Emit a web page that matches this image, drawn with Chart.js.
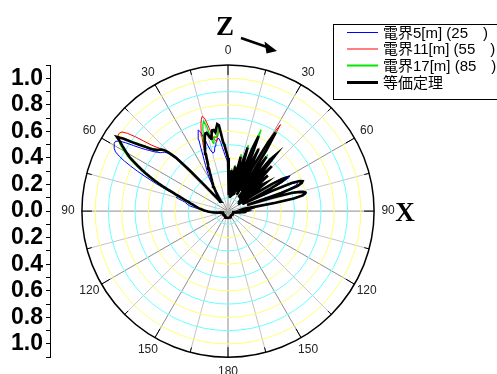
<!DOCTYPE html>
<html>
<head>
<meta charset="utf-8">
<script src="https://cdn.jsdelivr.net/npm/chart.js@4/dist/chart.umd.min.js"></script>
<style>
  html, body { margin: 0; padding: 0; background: #fff; }
  #c { display: block; }
</style>
</head>
<body>
<canvas id="c" width="497" height="374"></canvas>
<script>
// Sampling angles in degrees, clockwise from Z (top): coarse at the back, 1 deg in front.
const ANGLES = [];
for (let a = -180; a < -120; a += 5) ANGLES.push(a);
for (let a = -120; a <= 120; a++) ANGLES.push(a);
for (let a = 125; a <= 180; a += 5) ANGLES.push(a);

const SERIES_LABELS = ['電界5[m] (25\u3000)', '電界11[m] (55\u3000)', '電界17[m] (85\u3000)', '等価定理'];

// Normalised field strength, one value per entry of ANGLES.
const FIELD_5M = [
  0.05,0.05,0.05,0.05,0.05,0.05,0.04,0.04,0.04,0.04,0.04,0.04,            // -180..-125
  0.04,0.04,0.04,0.04,0.04,0.04,0.04,0.04,0.04,0.04,                      // -120
  0.04,0.04,0.04,0.05,0.05,0.05,0.06,0.06,0.06,0.07,                      // -110
  0.07,0.08,0.09,0.10,0.11,0.12,0.13,0.14,0.15,0.16,                      // -100
  0.17,0.18,0.19,0.20,0.21,0.23,0.25,0.27,0.29,0.30,                      // -90
  0.31,0.32,0.33,0.35,0.38,0.40,0.39,0.40,0.43,0.47,                      // -80
  0.52,0.57,0.62,0.68,0.74,0.80,0.86,0.91,0.95,0.97,                      // -70
  0.98,0.99,0.99,0.97,0.92,0.86,0.81,0.77,0.74,0.71,                      // -60
  0.69,0.67,0.66,0.65,0.63,0.59,0.52,0.38,0.24,0.17,                      // -50
  0.13,0.11,0.10,0.10,0.11,0.13,0.15,0.17,0.20,0.23,                      // -40
  0.26,0.29,0.32,0.35,0.38,0.42,0.46,0.52,0.58,0.62,                      // -30
  0.65,0.63,0.58,0.52,0.48,0.46,0.45,0.46,0.48,0.50,                      // -20
  0.52,0.54,0.55,0.55,0.52,0.48,0.45,0.42,0.40,0.38,                      // -10
  0.36,0.28,0.13,0.14,0.26,0.30,0.18,0.11,0.24,0.33,                      // 0
  0.22,0.12,0.30,0.40,0.27,0.12,0.36,0.47,0.33,0.13,                      // 10
  0.32,0.48,0.57,0.42,0.16,0.38,0.50,0.35,0.14,0.40,                      // 20
  0.58,0.64,0.48,0.18,0.36,0.48,0.33,0.14,0.36,0.52,                      // 30
  0.57,0.45,0.15,0.32,0.45,0.32,0.12,0.28,0.38,0.26,                      // 40
  0.10,0.22,0.33,0.33,0.22,0.10,0.12,0.26,0.42,0.50,                      // 50
  0.53,0.52,0.45,0.28,0.12,0.32,0.48,0.55,0.56,0.54,                      // 60
  0.48,0.36,0.15,0.36,0.52,0.58,0.60,0.60,0.57,0.50,                      // 70
  0.36,0.18,0.12,0.12,0.14,0.16,0.15,0.13,0.13,0.14,                      // 80
  0.13,0.12,0.12,0.12,0.11,0.10,0.09,0.08,0.07,0.06,                      // 90
  0.05,0.05,0.05,0.05,0.04,0.04,0.04,0.04,0.04,0.04,                      // 100
  0.04,0.04,0.04,0.04,0.04,0.04,0.04,0.04,0.04,0.04,0.04,                 // 110..120
  0.04,0.04,0.04,0.04,0.04,0.04,0.05,0.05,0.05,0.05,0.05,0.05             // 125..180
];

const FIELD_11M = [
  0.05,0.05,0.05,0.05,0.05,0.05,0.04,0.04,0.04,0.04,0.04,0.04,            // -180..-125
  0.04,0.04,0.04,0.04,0.04,0.04,0.04,0.04,0.04,0.04,                      // -120
  0.04,0.04,0.04,0.04,0.05,0.05,0.05,0.05,0.06,0.06,                      // -110
  0.06,0.07,0.08,0.09,0.10,0.11,0.12,0.13,0.14,0.15,                      // -100
  0.16,0.17,0.18,0.19,0.20,0.21,0.22,0.23,0.24,0.25,                      // -90
  0.26,0.27,0.28,0.30,0.32,0.34,0.36,0.39,0.42,0.45,                      // -80
  0.49,0.53,0.57,0.61,0.65,0.69,0.73,0.77,0.81,0.85,                      // -70
  0.88,0.91,0.94,0.97,0.99,1.00,1.00,0.99,0.95,0.89,                      // -60
  0.82,0.76,0.72,0.69,0.66,0.62,0.55,0.42,0.27,0.18,                      // -50
  0.13,0.10,0.09,0.09,0.10,0.11,0.13,0.15,0.17,0.19,                      // -40
  0.21,0.23,0.25,0.27,0.30,0.33,0.37,0.41,0.45,0.50,                      // -30
  0.55,0.60,0.65,0.69,0.72,0.74,0.72,0.66,0.60,0.56,                      // -20
  0.54,0.53,0.56,0.60,0.62,0.58,0.52,0.48,0.45,0.42,                      // -10
  0.38,0.29,0.14,0.13,0.25,0.32,0.19,0.11,0.23,0.35,                      // 0
  0.23,0.12,0.29,0.43,0.29,0.12,0.35,0.51,0.35,0.13,                      // 10
  0.31,0.51,0.62,0.45,0.16,0.37,0.53,0.38,0.15,0.42,                      // 20
  0.66,0.76,0.58,0.19,0.34,0.51,0.35,0.13,0.33,0.50,                      // 30
  0.53,0.40,0.14,0.34,0.46,0.33,0.12,0.29,0.40,0.27,                      // 40
  0.10,0.21,0.33,0.34,0.23,0.10,0.11,0.24,0.40,0.48,                      // 50
  0.50,0.48,0.40,0.24,0.12,0.33,0.50,0.57,0.58,0.57,                      // 60
  0.52,0.38,0.15,0.35,0.51,0.57,0.59,0.59,0.56,0.49,                      // 70
  0.35,0.18,0.12,0.11,0.13,0.15,0.14,0.12,0.13,0.14,                      // 80
  0.13,0.12,0.13,0.13,0.12,0.10,0.09,0.08,0.07,0.06,                      // 90
  0.05,0.05,0.05,0.04,0.04,0.04,0.04,0.04,0.04,0.04,                      // 100
  0.04,0.04,0.04,0.04,0.04,0.04,0.04,0.04,0.04,0.04,0.04,                 // 110..120
  0.04,0.04,0.04,0.04,0.04,0.04,0.05,0.05,0.05,0.05,0.05,0.05             // 125..180
];

const FIELD_17M = [
  0.05,0.05,0.05,0.05,0.05,0.05,0.04,0.04,0.04,0.04,0.04,0.04,            // -180..-125
  0.04,0.04,0.04,0.04,0.04,0.04,0.04,0.04,0.04,0.04,                      // -120
  0.04,0.04,0.04,0.04,0.05,0.05,0.05,0.05,0.06,0.06,                      // -110
  0.06,0.07,0.08,0.09,0.10,0.11,0.12,0.13,0.14,0.15,                      // -100
  0.16,0.17,0.18,0.19,0.21,0.22,0.23,0.24,0.25,0.26,                      // -90
  0.27,0.28,0.30,0.31,0.33,0.35,0.37,0.40,0.43,0.46,                      // -80
  0.50,0.54,0.58,0.62,0.66,0.70,0.74,0.78,0.82,0.86,                      // -70
  0.89,0.92,0.95,0.97,0.99,0.96,0.90,0.85,0.80,0.76,                      // -60
  0.73,0.71,0.69,0.67,0.65,0.61,0.55,0.41,0.26,0.18,                      // -50
  0.13,0.10,0.09,0.09,0.10,0.11,0.13,0.15,0.17,0.19,                      // -40
  0.21,0.23,0.25,0.27,0.29,0.32,0.35,0.39,0.43,0.47,                      // -30
  0.51,0.55,0.59,0.64,0.68,0.70,0.66,0.56,0.52,0.55,                      // -20
  0.57,0.56,0.58,0.62,0.63,0.57,0.51,0.48,0.45,0.42,                      // -10
  0.39,0.30,0.14,0.13,0.25,0.32,0.20,0.11,0.23,0.35,                      // 0
  0.24,0.12,0.30,0.44,0.31,0.12,0.36,0.52,0.37,0.13,                      // 10
  0.33,0.55,0.66,0.49,0.16,0.36,0.52,0.38,0.14,0.40,                      // 20
  0.62,0.70,0.55,0.18,0.35,0.52,0.37,0.13,0.32,0.49,                      // 30
  0.53,0.40,0.14,0.33,0.46,0.33,0.12,0.28,0.39,0.27,                      // 40
  0.10,0.20,0.32,0.34,0.23,0.10,0.10,0.23,0.39,0.47,                      // 50
  0.49,0.46,0.37,0.21,0.12,0.34,0.51,0.57,0.59,0.58,                      // 60
  0.53,0.40,0.15,0.35,0.50,0.56,0.59,0.59,0.56,0.49,                      // 70
  0.35,0.18,0.12,0.11,0.13,0.15,0.14,0.12,0.13,0.14,                      // 80
  0.13,0.12,0.13,0.13,0.12,0.10,0.09,0.08,0.07,0.06,                      // 90
  0.05,0.05,0.05,0.04,0.04,0.04,0.04,0.04,0.04,0.04,                      // 100
  0.04,0.04,0.04,0.04,0.04,0.04,0.04,0.04,0.04,0.04,0.04,                 // 110..120
  0.04,0.04,0.04,0.04,0.04,0.04,0.05,0.05,0.05,0.05,0.05,0.05             // 125..180
];

const EQUIVALENCE = [
  0.05,0.05,0.05,0.05,0.05,0.05,0.04,0.04,0.04,0.04,0.04,0.04,            // -180..-125
  0.04,0.04,0.04,0.04,0.04,0.04,0.04,0.04,0.04,0.04,                      // -120
  0.04,0.04,0.04,0.04,0.05,0.05,0.05,0.05,0.06,0.06,                      // -110
  0.06,0.07,0.08,0.09,0.10,0.11,0.12,0.13,0.14,0.15,                      // -100
  0.16,0.17,0.18,0.19,0.20,0.21,0.22,0.23,0.24,0.25,                      // -90
  0.26,0.27,0.29,0.30,0.32,0.34,0.36,0.38,0.41,0.44,                      // -80
  0.48,0.52,0.56,0.60,0.64,0.68,0.72,0.76,0.80,0.84,                      // -70
  0.87,0.90,0.93,0.96,1.00,0.95,0.88,0.83,0.79,0.75,                      // -60
  0.72,0.70,0.69,0.68,0.66,0.62,0.56,0.42,0.26,0.18,                      // -50
  0.13,0.10,0.09,0.09,0.10,0.11,0.13,0.15,0.17,0.19,                      // -40
  0.21,0.23,0.25,0.27,0.29,0.32,0.35,0.38,0.42,0.46,                      // -30
  0.50,0.53,0.56,0.59,0.61,0.61,0.58,0.56,0.59,0.62,                      // -20
  0.62,0.60,0.63,0.66,0.65,0.58,0.52,0.50,0.46,0.43,                      // -10
  0.40,0.30,0.14,0.12,0.24,0.31,0.20,0.10,0.22,0.34,                      // 0
  0.24,0.11,0.28,0.42,0.30,0.12,0.34,0.50,0.36,0.13,                      // 10
  0.30,0.50,0.61,0.46,0.16,0.36,0.52,0.38,0.14,0.38,                      // 20
  0.60,0.69,0.54,0.18,0.34,0.50,0.36,0.13,0.32,0.50,                      // 30
  0.55,0.40,0.14,0.34,0.47,0.34,0.12,0.28,0.40,0.28,                      // 40
  0.10,0.20,0.32,0.35,0.24,0.10,0.10,0.22,0.38,0.47,                      // 50
  0.50,0.46,0.36,0.20,0.12,0.35,0.52,0.58,0.60,0.59,                      // 60
  0.55,0.42,0.15,0.35,0.50,0.56,0.59,0.59,0.57,0.50,                      // 70
  0.36,0.18,0.12,0.11,0.13,0.15,0.14,0.12,0.13,0.14,                      // 80
  0.13,0.12,0.13,0.13,0.12,0.10,0.09,0.08,0.07,0.06,                      // 90
  0.05,0.05,0.05,0.04,0.04,0.04,0.04,0.04,0.04,0.04,                      // 100
  0.04,0.04,0.04,0.04,0.04,0.04,0.04,0.04,0.04,0.04,0.04,                 // 110..120
  0.04,0.04,0.04,0.04,0.04,0.04,0.05,0.05,0.05,0.05,0.05,0.05             // 125..180
];

const RING_VALUES = [0.1, 0.2, 0.3, 0.4, 0.5, 0.6, 0.7, 0.8, 0.9, 1.0];
const R_MAX = 1.1;

// Plot geometry (pixels)
const PLOT_TOP = 65, PLOT_BOTTOM = 360, AXIS_X = 50, PLOT_RIGHT = 430, CENTER_X = 228;
const PX_PER_UNIT = (PLOT_BOTTOM - PLOT_TOP) / (2 * R_MAX);
const X_MIN = -(CENTER_X - AXIS_X) / PX_PER_UNIT;
const X_MAX = (PLOT_RIGHT - CENTER_X) / PX_PER_UNIT;

function toXY(values) {
  return values.map((r, i) => {
    const t = ANGLES[i] * Math.PI / 180;
    return { x: r * Math.sin(t), y: r * Math.cos(t) };
  });
}

const LATIN = '"Liberation Sans", Arial, "Noto Sans CJK JP", sans-serif';

const polarGrid = {
  id: 'polarGrid',
  beforeDatasetsDraw(chart) {
    const { ctx, scales: { x, y } } = chart;
    const cx = x.getPixelForValue(0), cy = y.getPixelForValue(0);
    const unit = cy - y.getPixelForValue(1);
    const R = R_MAX * unit;
    ctx.save();
    ctx.lineWidth = 1;
    // spokes every 15 degrees
    for (let a = 0; a < 360; a += 15) {
      const t = a * Math.PI / 180;
      ctx.strokeStyle = a % 30 === 0 ? '#8c8c8c' : '#c4c4c4';
      ctx.beginPath();
      ctx.moveTo(cx, cy);
      ctx.lineTo(cx + R * Math.sin(t), cy - R * Math.cos(t));
      ctx.stroke();
    }
    // rings
    RING_VALUES.forEach((v, i) => {
      ctx.strokeStyle = i % 2 === 0 ? '#66ffff' : '#ffff73';
      ctx.beginPath();
      ctx.arc(cx, cy, v * unit, 0, Math.PI * 2);
      ctx.stroke();
    });
    // outer rim and its ticks
    ctx.strokeStyle = '#000';
    ctx.lineWidth = 1.5;
    ctx.beginPath();
    ctx.arc(cx, cy, R, 0, Math.PI * 2);
    ctx.stroke();
    ctx.lineWidth = 1;
    for (let a = 0; a < 360; a += 15) {
      const t = a * Math.PI / 180;
      const len = a % 30 === 0 ? 10 : 5;
      ctx.beginPath();
      ctx.moveTo(cx + R * Math.sin(t), cy - R * Math.cos(t));
      ctx.lineTo(cx + (R - len) * Math.sin(t), cy - (R - len) * Math.cos(t));
      ctx.stroke();
    }
    // angle labels (0..180 on both sides)
    ctx.fillStyle = '#222';
    ctx.font = '12px ' + LATIN;
    ctx.textAlign = 'center';
    ctx.textBaseline = 'middle';
    for (let a = 0; a < 360; a += 30) {
      const t = a * Math.PI / 180;
      const lr = R + 14;
      const txt = String(a <= 180 ? a : 360 - a);
      ctx.fillText(txt, cx + lr * Math.sin(t), cy - lr * Math.cos(t));
    }
    ctx.restore();
  }
};

const decorations = {
  id: 'decorations',
  afterDraw(chart) {
    const { ctx } = chart;
    ctx.save();
    // legend box
    ctx.strokeStyle = '#000';
    ctx.lineWidth = 1;
    ctx.strokeRect(333.5, 24.5, 170, 75);
    const rows = [32.5, 49, 65.5, 82.5];
    ctx.font = '15px ' + LATIN;
    ctx.textAlign = 'left';
    ctx.textBaseline = 'middle';
    chart.data.datasets.forEach((ds, k) => {
      ctx.strokeStyle = ds.borderColor;
      ctx.lineWidth = k === 3 ? 3 : (k === 2 ? 2 : 1);
      ctx.beginPath();
      ctx.moveTo(347, rows[k]);
      ctx.lineTo(378, rows[k]);
      ctx.stroke();
      ctx.fillStyle = '#000';
      ctx.fillText(ds.label, 383, rows[k] + 1);
    });
    // axis names
    ctx.fillStyle = '#000';
    ctx.font = 'bold 27px "Liberation Serif", "DejaVu Serif", serif';
    ctx.textAlign = 'center';
    ctx.textBaseline = 'alphabetic';
    ctx.fillText('Z', 225, 35);
    ctx.fillText('X', 405, 221);
    // arrow next to Z
    ctx.strokeStyle = '#000';
    ctx.lineWidth = 2.5;
    ctx.beginPath();
    ctx.moveTo(241, 38);
    ctx.lineTo(267, 47);
    ctx.stroke();
    ctx.beginPath();
    ctx.moveTo(277, 51);
    ctx.lineTo(264.5, 41.5);
    ctx.lineTo(266.5, 53.5);
    ctx.closePath();
    ctx.fill();
    ctx.restore();
  }
};

const ctx = document.getElementById('c').getContext('2d');
new Chart(ctx, {
  type: 'scatter',
  data: {
    datasets: [
      { label: SERIES_LABELS[0], data: toXY(FIELD_5M), borderColor: '#0000ff', borderWidth: 1, order: 3 },
      { label: SERIES_LABELS[1], data: toXY(FIELD_11M), borderColor: '#ff0000', borderWidth: 1, order: 2 },
      { label: SERIES_LABELS[2], data: toXY(FIELD_17M), borderColor: '#00e600', borderWidth: 1.3, order: 1 },
      { label: SERIES_LABELS[3], data: toXY(EQUIVALENCE), borderColor: '#000000', borderWidth: 2.6, order: 0 }
    ].map(d => Object.assign(d, { showLine: true, pointRadius: 0, pointHoverRadius: 0, fill: false, tension: 0 }))
  },
  options: {
    responsive: false,
    animation: false,
    devicePixelRatio: 1,
    layout: { padding: { top: PLOT_TOP, bottom: 374 - PLOT_BOTTOM, left: 0, right: 497 - PLOT_RIGHT } },
    plugins: { legend: { display: false }, tooltip: { enabled: false } },
    events: [],
    scales: {
      x: { type: 'linear', display: false, min: X_MIN, max: X_MAX },
      y: {
        type: 'linear',
        position: 'left',
        min: -R_MAX,
        max: R_MAX,
        afterFit(scale) { scale.width = AXIS_X; },
        border: { display: true, color: '#000', width: 1 },
        grid: { drawOnChartArea: false, drawTicks: true, tickLength: 4, color: '#000' },
        ticks: {
          stepSize: 0.1,
          autoSkip: false,
          padding: 3,
          color: '#000',
          font: { family: LATIN, size: 23, weight: 'bold' },
          callback(value) {
            const tenths = Math.round(value * 10);
            return tenths % 2 === 0 ? Math.abs(tenths / 10).toFixed(1) : '';
          }
        }
      }
    }
  },
  plugins: [polarGrid, decorations]
});
</script>
</body>
</html>
